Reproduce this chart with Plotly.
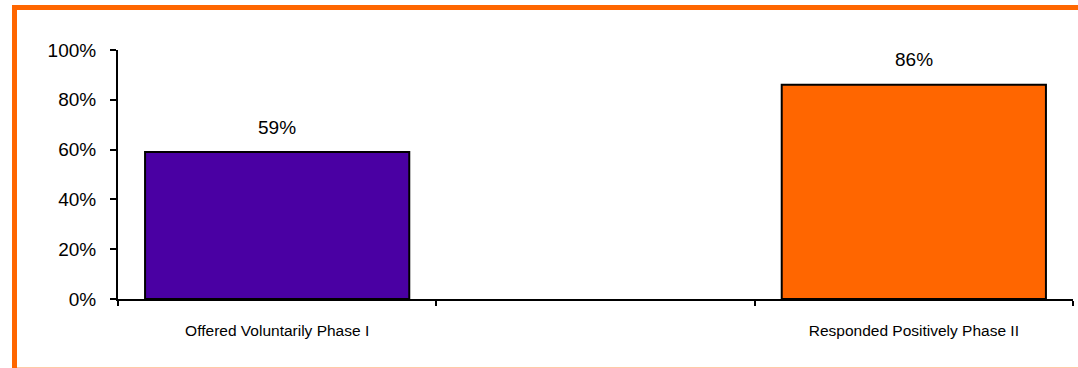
import plotly.graph_objects as go

categories = ["Offered Voluntarily Phase I", "", "Responded Positively Phase II"]
values = [0.59, None, 0.86]
bar_colors = ["#4A00A3", "#FFFFFF", "#FF6600"]
y_ticks = [0, 0.2, 0.4, 0.6, 0.8, 1.0]

W, H = 1078, 368
L, R, T, B = 118, 5, 50, 69

xs = [i for i, v in enumerate(values) if v is not None]
ys = [v for v in values if v is not None]
cols = [bar_colors[i] for i in xs]
labels = [categories[i] for i in xs]

fig = go.Figure()
fig.add_trace(go.Bar(
    x=xs, y=ys, width=0.83,
    marker=dict(color=cols, line=dict(color="black", width=2)),
    hoverinfo="skip",
))

for x, y in zip(xs, ys):
    fig.add_annotation(x=x, y=y, text=f"{round(y*100)}%", showarrow=False,
                       yanchor="middle", yshift=25,
                       font=dict(family="Liberation Sans, Arial", size=19, color="black"))

boundaries = [i - 0.5 for i in range(len(categories) + 1)]

fig.update_xaxes(
    range=[-0.5, len(categories) - 0.5],
    tickvals=xs, ticktext=labels,
    ticks="", ticklabelstandoff=16,
    tickfont=dict(family="Liberation Sans, Arial", size=15.5, color="black"),
    showline=True, linecolor="black", linewidth=2,
    showgrid=False, zeroline=False,
    minor=dict(tickvals=boundaries, ticks="outside", ticklen=5, tickwidth=2, tickcolor="black", showgrid=False),
)
fig.update_yaxes(
    range=[0, 1], tickvals=y_ticks, tickformat=".0%",
    ticks="outside", ticklen=6, tickwidth=2, tickcolor="black",
    ticklabelstandoff=10,
    tickfont=dict(family="Liberation Sans, Arial", size=19, color="black"),
    showline=True, linecolor="black", linewidth=2,
    showgrid=False, zeroline=False,
)

pw, ph = W - L - R, H - T - B
def px2x(p):
    return (p - L) / pw
def py2y(p):
    return (H - B - p) / ph

frame = dict(xref="paper", yref="paper", layer="below")
# left and top: thick orange
fig.add_shape(type="line", x0=px2x(14.5), x1=px2x(14.5), y0=py2y(5), y1=py2y(368),
              line=dict(color="#FF6600", width=5), **frame)
fig.add_shape(type="line", x0=px2x(12), x1=px2x(1078), y0=py2y(7.5), y1=py2y(7.5),
              line=dict(color="#FF6600", width=5), **frame)
# bottom: thin light peach edge
fig.add_shape(type="line", x0=px2x(17), x1=px2x(1078), y0=py2y(367.5), y1=py2y(367.5),
              line=dict(color="#FFC9A6", width=1), **frame)

fig.update_layout(
    width=W, height=H,
    margin=dict(l=L, r=R, t=T, b=B),
    paper_bgcolor="white", plot_bgcolor="white",
    showlegend=False, bargap=0.17,
)

fig.write_html("out.html")
